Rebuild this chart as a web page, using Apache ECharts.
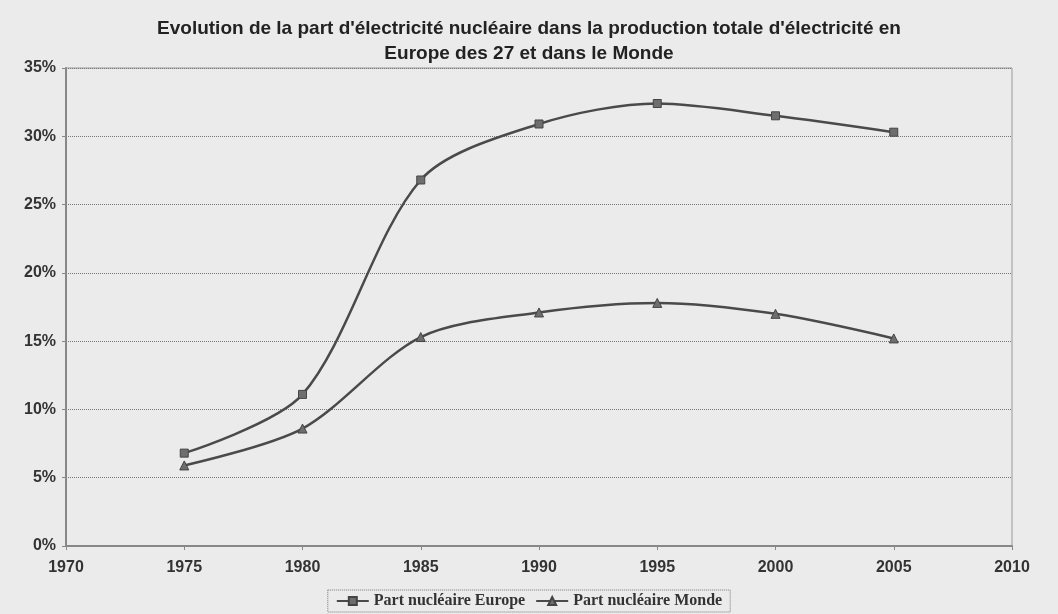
<!DOCTYPE html>
<html>
<head>
<meta charset="utf-8">
<script src="https://cdn.jsdelivr.net/npm/echarts@6/dist/echarts.min.js"></script>
<style>
    html, body { margin: 0; padding: 0; background: #ebebeb; }
    #chart { width: 1058px; height: 614px; }
</style>
</head>
<body>
<div id="chart"></div>
<script>
var years = [1975, 1980, 1985, 1990, 1995, 2000, 2005];
var europe = [6.8, 11.1, 26.8, 30.9, 32.4, 31.5, 30.3];
var monde = [5.9, 8.6, 15.3, 17.1, 17.8, 17.0, 15.2];
var seriesNames = ['Part nucléaire Europe', 'Part nucléaire Monde'];

function pairs(vals) {
    return years.map(function (y, i) { return [y, vals[i]]; });
}

var mychart = echarts.init(document.getElementById('chart'));
mychart.setOption({
    backgroundColor: '#ebebeb',
    color: ['#4a4a4a', '#4a4a4a'],
    title: {
        text: "Evolution de la part d'électricité nucléaire dans la production totale d'électricité en\nEurope des 27 et dans le Monde",
        left: 'center',
        top: 11,
        textStyle: {
            fontFamily: 'Liberation Sans',
            fontWeight: 'bold',
            fontSize: 19,
            lineHeight: 25,
            color: '#222'
        }
    },
    legend: {
        bottom: 2,
        left: 'center',
        data: seriesNames,
        borderColor: '#777',
        borderWidth: 1,
        borderType: 'dotted',
        padding: [3, 8],
        itemWidth: 32,
        itemHeight: 10,
        itemGap: 10,
        textStyle: {
            fontFamily: 'Liberation Serif',
            fontWeight: 'bold',
            fontSize: 16,
            color: '#333'
        }
    },
    grid: {
        left: 66,
        right: 46,
        top: 68,
        bottom: 68,
        show: true,
        borderColor: '#999',
        borderWidth: 1
    },
    xAxis: {
        type: 'value',
        min: 1970,
        max: 2010,
        interval: 5,
        axisLine: { show: true, onZero: false, lineStyle: { color: '#888', width: 2 } },
        axisTick: { show: true, length: 4, lineStyle: { color: '#888' } },
        splitLine: { show: false },
        axisLabel: {
            formatter: function (v) { return String(v); },
            margin: 14,
            fontFamily: 'Liberation Sans',
            fontWeight: 'bold',
            fontSize: 16,
            color: '#333'
        }
    },
    yAxis: {
        type: 'value',
        min: 0,
        max: 35,
        interval: 5,
        axisLine: { show: true, lineStyle: { color: '#888', width: 2 } },
        axisTick: { show: true, length: 4, lineStyle: { color: '#888' } },
        splitLine: { show: true, lineStyle: { color: '#777', type: 'dotted', width: 1 } },
        axisLabel: {
            formatter: '{value}%',
            margin: 10,
            fontFamily: 'Liberation Sans',
            fontWeight: 'bold',
            fontSize: 16,
            color: '#333'
        }
    },
    series: [
        {
            name: seriesNames[0],
            type: 'line',
            smooth: 0.3,
            data: pairs(europe),
            symbol: 'rect',
            symbolSize: 8,
            lineStyle: { width: 2.5, color: '#4a4a4a' },
            itemStyle: { color: '#6e6e6e', borderColor: '#444', borderWidth: 1 }
        },
        {
            name: seriesNames[1],
            type: 'line',
            smooth: 0.3,
            data: pairs(monde),
            symbol: 'triangle',
            symbolSize: 9,
            lineStyle: { width: 2.5, color: '#4a4a4a' },
            itemStyle: { color: '#6e6e6e', borderColor: '#444', borderWidth: 1 }
        }
    ]
});
</script>
</body>
</html>
